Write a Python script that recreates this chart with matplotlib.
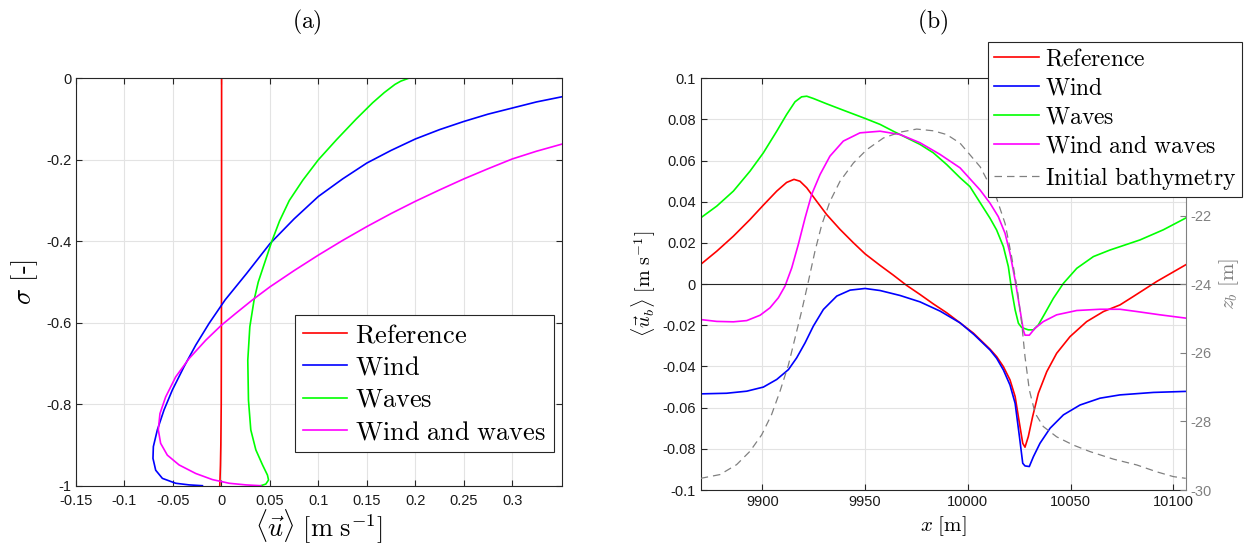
import numpy as np
import matplotlib
matplotlib.use("Agg")
import matplotlib.pyplot as plt

plt.rcParams['mathtext.fontset'] = 'cm'
plt.rcParams['font.family'] = ['Liberation Sans', 'DejaVu Sans']
plt.rcParams['axes.unicode_minus'] = False

# ---- (a) vertical profiles: sigma vs <u>
sig_ref = [0.0, -0.5, -0.8, -0.9, -0.95, -0.98, -1.0]
u_ref = [0.0002, 0.0001, -0.0002, -0.0006, -0.001, -0.0014, -0.0017]

sig_wind = [-0.045, -0.058, -0.073, -0.088, -0.106, -0.126, -0.149, -0.177, -0.208, -0.247,
            -0.290, -0.345, -0.406, -0.479, -0.544, -0.6015, -0.655, -0.708, -0.765, -0.814,
            -0.863, -0.904, -0.933, -0.962, -0.982, -0.994, -0.998, -1.0]
u_wind = [0.352, 0.325, 0.3, 0.275, 0.25, 0.225, 0.2, 0.175, 0.15, 0.125,
          0.1, 0.075, 0.05, 0.026, 0.0038, -0.0127, -0.0265, -0.0386, -0.0506, -0.0592,
          -0.0661, -0.0702, -0.0706, -0.0678, -0.0609, -0.0472, -0.0334, -0.0196]

sig_waves = [0.0, -0.007, -0.015, -0.035, -0.06, -0.1, -0.15, -0.2, -0.25, -0.3, -0.35, -0.4,
             -0.45, -0.5, -0.544, -0.61, -0.692, -0.79, -0.863, -0.912, -0.949, -0.974, -0.986,
             -0.996, -1.0]
u_waves = [0.193, 0.185, 0.179, 0.168, 0.156, 0.139, 0.119, 0.100, 0.084, 0.070, 0.060, 0.052,
           0.045, 0.038, 0.0337, 0.0293, 0.0272, 0.0279, 0.0303, 0.0355, 0.0424, 0.0475, 0.0486,
           0.0458, 0.0406]

sig_ww = [-0.161, -0.179, -0.198, -0.222, -0.247, -0.274, -0.302, -0.332, -0.364, -0.398,
          -0.434, -0.472, -0.512, -0.544, -0.577, -0.606, -0.643, -0.688, -0.733, -0.782,
          -0.823, -0.863, -0.896, -0.925, -0.949, -0.970, -0.985, -0.994, -0.998, -1.0]
u_ww = [0.352, 0.325, 0.3, 0.275, 0.25, 0.225, 0.2, 0.175, 0.15, 0.125,
        0.1, 0.075, 0.05, 0.032, 0.0148, 0.0, -0.0162, -0.0334, -0.0472, -0.0575,
        -0.0634, -0.0651, -0.0627, -0.0558, -0.0437, -0.0265, -0.0093, 0.0079, 0.0251, 0.0406]

# ---- (b) bottom velocity along x
x_ref = [9870, 9877.8, 9885.9, 9894, 9900.5, 9907, 9911.8, 9915.4, 9918.3, 9921.6, 9926.4,
         9931.3, 9937.8, 9944.3, 9950, 9957.3, 9963.7, 9970.2, 9976.7, 9983.2, 9989.7, 9996.2,
         10002.7, 10010.8, 10014, 10017.3, 10020.5, 10023, 10025.1, 10026.7, 10027.8, 10029.4,
         10031.5, 10034.3, 10038.4, 10043.2, 10049.7, 10057.8, 10066, 10074, 10080.5, 10091.9,
         10106]
ub_ref = [0.0096, 0.016, 0.0233, 0.0314, 0.0384, 0.0452, 0.0494, 0.0509, 0.05, 0.0468, 0.0403,
          0.0338, 0.0266, 0.0201, 0.0147, 0.0091, 0.0044, -0.0006, -0.005, -0.0096, -0.0139, -0.0188,
          -0.0238, -0.0316, -0.0352, -0.0401, -0.0465, -0.0546, -0.0676, -0.0773, -0.0792, -0.0741,
          -0.0644, -0.053, -0.0425, -0.0336, -0.0255, -0.0182, -0.0133, -0.0101, -0.006, 0.0013,
          0.0094]

x_wind = [9870, 9882.6, 9892.4, 9900.5, 9907, 9912.7, 9916.7, 9920.8, 9924.8, 9929.7, 9936.2,
          9942.7, 9950, 9957.3, 9967, 9976.7, 9986.5, 9996.2, 10003, 10010.8, 10014, 10017.3,
          10020.5, 10023, 10025.1, 10026.7, 10027.8, 10029.9, 10031.9, 10035.1, 10040, 10046.5,
          10054.6, 10064.3, 10074, 10090.3, 10106]
ub_wind = [-0.0533, -0.053, -0.052, -0.05, -0.0463, -0.0415, -0.0358, -0.0285, -0.0204, -0.0123,
           -0.0058, -0.0029, -0.0021, -0.0031, -0.0055, -0.0086, -0.0131, -0.0188, -0.0245, -0.032,
           -0.036, -0.0417, -0.049, -0.0579, -0.0741, -0.087, -0.0883, -0.0886, -0.0838, -0.0773,
           -0.07, -0.0635, -0.0587, -0.0554, -0.0538, -0.0526, -0.0521]

x_waves = [9870, 9877.8, 9885.9, 9894, 9900.5, 9907, 9911.8, 9915.9, 9919.1, 9921.6, 9924.8,
           9931.3, 9939.4, 9950, 9957.3, 9963.7, 9970.2, 9976.7, 9983.2, 9989.7, 9996.2, 10001,
           10010.8, 10014, 10017.3, 10019.7, 10021.3, 10023, 10024.6, 10026.2, 10029.4, 10031.9,
           10034.3, 10037.5, 10041.6, 10046.5, 10053, 10061.1, 10069.2, 10074, 10083.8, 10095.1,
           10106]
ub_waves = [0.0322, 0.0379, 0.0452, 0.0549, 0.0638, 0.0743, 0.0824, 0.0886, 0.091, 0.0913, 0.0902,
            0.0876, 0.0845, 0.0805, 0.0776, 0.0743, 0.0711, 0.0679, 0.0638, 0.0581, 0.0517, 0.0474,
            0.032, 0.0263, 0.0182, 0.0085, -0.0028, -0.0125, -0.019, -0.0211, -0.0222, -0.0222,
            -0.0198, -0.0142, -0.0069, 0.0004, 0.0077, 0.0134, 0.0166, 0.0182, 0.0215, 0.0264,
            0.0321]

x_ww = [9870, 9877.8, 9885.9, 9892.4, 9898.9, 9903.7, 9907.8, 9911, 9914.3, 9917.5, 9920.8,
        9924, 9928.1, 9932.9, 9939.4, 9947.5, 9957.3, 9967, 9976.7, 9986.5, 9996.2, 10005.9,
        10010.8, 10014.8, 10018.1, 10020.5, 10023, 10025.4, 10027, 10027.8, 10029.9, 10032.7,
        10036.7, 10043.2, 10053, 10064.3, 10074, 10082.2, 10093.5, 10106]
ub_ww = [-0.0172, -0.0181, -0.0183, -0.0177, -0.0151, -0.0115, -0.0066, -0.001, 0.0079, 0.0193,
         0.0322, 0.0436, 0.0533, 0.0622, 0.0695, 0.0735, 0.0743, 0.0727, 0.0687, 0.063, 0.0565,
         0.0458, 0.0393, 0.0328, 0.0247, 0.015, 0.002, -0.0126, -0.0224, -0.0248, -0.0248, -0.0214,
         -0.0182, -0.0149, -0.0128, -0.0122, -0.0122, -0.0133, -0.0149, -0.0165]

x_bathy = [9870, 9879.4, 9887.5, 9894, 9899.7, 9904.5, 9908.6, 9912.7, 9915.9, 9919.1, 9922.4,
           9925.6, 9928.9, 9932.9, 9937.8, 9944.3, 9950.8, 9958.9, 9967, 9975.1, 9983.2, 9989.7,
           9996.2, 10006, 10014, 10018.1, 10021.3, 10024.1, 10026.2, 10027.8, 10029.9, 10032.7,
           10036.7, 10043.2, 10051.3, 10059.4, 10070.8, 10082.2, 10091.9, 10100, 10106]
z_bathy = [-29.66, -29.55, -29.26, -28.87, -28.39, -27.8, -27.12, -26.35, -25.57, -24.79, -23.92,
           -23.04, -22.27, -21.59, -21.0, -20.47, -20.08, -19.74, -19.57, -19.48, -19.53, -19.64,
           -19.89, -20.58, -21.5, -22.23, -23.2, -24.17, -25.14, -26.11, -27.08, -27.76,
           -28.15, -28.45, -28.69, -28.88, -29.1, -29.27, -29.47, -29.61, -29.66]

colors = ['#ff0000', '#0000ff', '#00ff00', '#ff00ff']
labels = [r'$\mathrm{Reference}$', r'$\mathrm{Wind}$', r'$\mathrm{Waves}$',
          r'$\mathrm{Wind\ and\ waves}$']

xticks_a = [-0.15, -0.1, -0.05, 0, 0.05, 0.1, 0.15, 0.2, 0.25, 0.3]
yticks_a = [0, -0.2, -0.4, -0.6, -0.8, -1]
xticks_b = [9900, 9950, 10000, 10050, 10100]
yticks_b = [-0.1, -0.08, -0.06, -0.04, -0.02, 0, 0.02, 0.04, 0.06, 0.08, 0.1]
yticks_b2 = [-30, -28, -26, -24, -22]

W, H = 1255, 545
fig = plt.figure(figsize=(W / 100, H / 100), dpi=100)
ax1 = fig.add_axes([76 / W, 1 - 485.7 / H, 485.7 / W, 407.4 / H])
ax2 = fig.add_axes([700.7 / W, 1 - 490 / H, 485 / W, 411.7 / H])
ax3 = ax2.twinx()

dark = '#262626'
for ax in (ax1, ax2):
    for s in ax.spines.values():
        s.set_color(dark)
        s.set_linewidth(0.8)
    ax.grid(True, color='#e3e3e3', lw=0.8)
    ax.set_axisbelow(True)
    ax.tick_params(direction='in', length=4, width=0.8, color=dark, labelsize=10.5,
                   labelcolor='#1a1a1a', top=True)
ax1.tick_params(right=True)
ax1.tick_params(axis='x', pad=6)
ax2.spines['right'].set_visible(False)

# (a)
lw = 1.2
ax1.plot(u_ref, sig_ref, color=colors[0], lw=lw, label=labels[0])
ax1.plot(u_wind, sig_wind, color=colors[1], lw=lw, label=labels[1])
ax1.plot(u_waves, sig_waves, color=colors[2], lw=lw, label=labels[2])
ax1.plot(u_ww, sig_ww, color=colors[3], lw=lw, label=labels[3])
ax1.set_xlim(-0.15, 0.351)
ax1.set_ylim(-1, 0)
ax1.set_xticks(xticks_a)
ax1.set_xticklabels(['%g' % t for t in xticks_a])
ax1.set_yticks(yticks_a)
ax1.set_yticklabels(['%g' % t for t in yticks_a])
ax1.set_xlabel(r'$\langle \vec{u} \rangle\ [\mathrm{m\ s}^{-1}]$', fontsize=19, labelpad=0)
ax1.set_ylabel(r'$\sigma$ [-]', fontfamily='cmr10', fontsize=19, labelpad=4)
leg1 = ax1.legend(loc='lower right', bbox_to_anchor=(554.3 / W, 1 - 452.3 / H),
                  bbox_transform=fig.transFigure, borderaxespad=0, fontsize=19,
                  fancybox=False, framealpha=1, edgecolor=dark, handlelength=1.7,
                  handletextpad=0.3, labelspacing=0.32, borderpad=0.3)
leg1.get_frame().set_linewidth(0.8)

# (b)
h = []
h += ax2.plot(x_ref, ub_ref, color=colors[0], lw=lw, label=labels[0])
h += ax2.plot(x_wind, ub_wind, color=colors[1], lw=lw, label=labels[1])
h += ax2.plot(x_waves, ub_waves, color=colors[2], lw=lw, label=labels[2])
h += ax2.plot(x_ww, ub_ww, color=colors[3], lw=lw, label=labels[3])
ax2.axhline(0, color=dark, lw=0.8)
ax2.set_xlim(9870, 10106)
ax2.set_ylim(-0.1, 0.1)
ax2.set_xticks(xticks_b)
ax2.set_xticklabels([str(t) for t in xticks_b])
ax2.set_yticks(yticks_b)
ax2.set_yticklabels(['%g' % t for t in yticks_b])
ax2.set_xlabel(r'$x\ [\mathrm{m}]$', fontsize=15, labelpad=4)
ax2.set_ylabel(r'$\langle \vec{u}_b \rangle\ [\mathrm{m\ s}^{-1}]$', fontsize=14.5, labelpad=3)

grey = '#808080'
h += ax3.plot(x_bathy, z_bathy, color=grey, lw=0.9, ls=(0, (6, 4)),
              label=r'$\mathrm{Initial\ bathymetry}$')
ax3.set_ylim(-30, -18)
ax3.set_yticks(yticks_b2)
ax3.set_yticklabels(['%g' % t for t in yticks_b2])
for k in ('left', 'top', 'bottom'):
    ax3.spines[k].set_visible(False)
ax3.spines['right'].set_color(grey)
ax3.spines['right'].set_linewidth(0.8)
ax3.tick_params(direction='in', length=4, width=0.8, color=grey, labelcolor=grey, labelsize=10.5)
ax3.set_ylabel(r'$z_b\ [\mathrm{m}]$', fontsize=15, color=grey, labelpad=4)

leg2 = fig.legend(handles=h, loc='upper left', bbox_to_anchor=(988.3 / W, 1 - 42.3 / H),
                  bbox_transform=fig.transFigure, borderaxespad=0, fontsize=17,
                  fancybox=False, framealpha=1, edgecolor=dark, handlelength=1.9,
                  handletextpad=0.25, labelspacing=0.3, borderpad=0.25)
leg2.get_frame().set_linewidth(0.8)

fig.text(307 / W, 1 - 22 / H, r'$\mathrm{(a)}$', fontsize=17, ha='center', va='center')
fig.text(933 / W, 1 - 22 / H, r'$\mathrm{(b)}$', fontsize=17, ha='center', va='center')

fig.savefig('out.png', dpi=100)
